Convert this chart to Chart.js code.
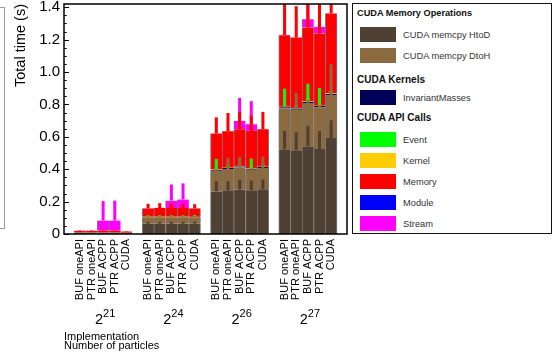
<!DOCTYPE html>
<html>
<head>
<meta charset="utf-8">
<script src="https://cdn.jsdelivr.net/npm/chart.js@4/dist/chart.umd.min.js"></script>
<style>
  body { margin: 0; background: #fff; font-family: "Liberation Sans", Arial, sans-serif; }
  #wrap { position: relative; width: 552px; height: 353px; overflow: hidden; }
  #chart { position: absolute; left: 0; top: 0; }
  #legend { position: absolute; left: 352px; top: 3px; width: 198px; height: 229px; border: 1px solid #111; background: #fff; }
  #legend .hd { position: absolute; left: 4px; font-weight: bold; color: #111; line-height: 12px; white-space: nowrap; }
  #legend .sw { position: absolute; left: 7px; width: 36px; height: 15px; }
  #legend .lb { position: absolute; left: 50px; font-size: 9.3px; line-height: 12px; color: #333; white-space: nowrap; }
  #side { position: absolute; left: -20px; top: 7px; width: 23px; height: 220px; border: 1px solid #999; }
</style>
</head>
<body>
<div id="wrap">
  <div id="side"></div>
  <canvas id="chart" width="552" height="353"></canvas>
  <div id="legend"></div>
</div>
<script>
// number of particles = 2^exp
const groupExps = ['21', '24', '26', '27'];
const implementations = ['BUF oneAPI', 'PTR oneAPI', 'BUF ACPP', 'PTR ACPP', 'CUDA'];
const yTicks = [0, 0.2, 0.4, 0.6, 0.8, 1, 1.2, 1.4];

const seriesNames = ['CUDA memcpy HtoD', 'CUDA memcpy DtoH', 'InvariantMasses', 'Event', 'Kernel', 'Memory', 'Module', 'Stream'];
const seriesColors = ['#4e4033', '#8b6a3f', '#000058', '#00ff00', '#ffcc00', '#ff0000', '#0000ff', '#ff00ff'];

// values per bar: 2^21 x5, 2^24 x5, 2^26 x5, 2^27 x5
const htod = [0.005, 0.005, 0.005, 0.005, 0.004,
              0.063, 0.063, 0.063, 0.063, 0.064,
              0.263, 0.270, 0.274, 0.270, 0.276,
              0.523, 0.517, 0.542, 0.525, 0.592];
const dtoh = [0.003, 0.003, 0.003, 0.003, 0.003,
              0.040, 0.040, 0.040, 0.040, 0.040,
              0.127, 0.131, 0.137, 0.127, 0.131,
              0.252, 0.250, 0.267, 0.257, 0.266];
const invMasses = [0.0005, 0.0005, 0.0005, 0.0005, 0.0005,
                   0.002, 0.002, 0.002, 0.002, 0.002,
                   0.006, 0.006, 0.006, 0.006, 0.006,
                   0.008, 0.008, 0.008, 0.008, 0.008];
const apiEvent = [0.0002, 0.0002, 0.0002, 0.0002, 0.0002,
                  0.0005, 0.0005, 0.0005, 0.0005, 0.0005,
                  0.001, 0.001, 0.001, 0.001, 0.001,
                  0.001, 0.001, 0.001, 0.001, 0.001];
const apiKernel = [0.0002, 0.0002, 0.0002, 0.0002, 0.0002,
                   0.0005, 0.0005, 0.0005, 0.0005, 0.0005,
                   0.001, 0.001, 0.001, 0.001, 0.001,
                   0.0015, 0.0015, 0.0015, 0.0015, 0.0015];
const apiMemory = [0.011, 0.011, 0.012, 0.012, 0.008,
                   0.052, 0.054, 0.054, 0.054, 0.051,
                   0.222, 0.225, 0.227, 0.231, 0.231,
                   0.442, 0.435, 0.455, 0.445, 0.493];
const apiModule = [0.0003, 0.0003, 0.0003, 0.0003, 0.0003,
                   0.0005, 0.0005, 0.0005, 0.0005, 0.0005,
                   0.001, 0.001, 0.001, 0.001, 0.001,
                   0.001, 0.001, 0.001, 0.001, 0.001];
const apiStream = [0.001, 0.001, 0.062, 0.062, 0,
                   0.001, 0.001, 0.045, 0.052, 0,
                   0.001, 0.001, 0.050, 0.041, 0,
                   0.001, 0.001, 0.050, 0.041, 0];

// error spikes (upwards from each segment top)
const htodErr = [0.001, 0.001, 0.001, 0.001, 0.001,
                 0.012, 0.012, 0.012, 0.012, 0.012,
                 0.064, 0.055, 0.060, 0.060, 0.060,
                 0.114, 0.110, 0.126, 0.110, 0.110];
const dtohErr = [0.001, 0.001, 0.001, 0.001, 0.001,
                 0.006, 0.006, 0.006, 0.006, 0.006,
                 0.010, 0.070, 0.066, 0.010, 0.070,
                 0.015, 0.104, 0.015, 0.015, 0.190];
const invMassesErr = [0, 0, 0, 0, 0, 0, 0, 0, 0, 0, 0, 0, 0, 0, 0, 0, 0, 0, 0, 0];
const eventErr = [0.001, 0.001, 0.001, 0.001, 0.001,
                  0.010, 0.010, 0.010, 0.010, 0.010,
                  0.066, 0.020, 0.020, 0.062, 0.020,
                  0.113, 0.020, 0.110, 0.110, 0.020];
const kernelErr = [0, 0, 0, 0, 0,
                   0.005, 0.005, 0.005, 0.005, 0.005,
                   0.010, 0.010, 0.010, 0.010, 0.010,
                   0.020, 0.010, 0.020, 0.020, 0.010];
const memoryErr = [0.003, 0.003, 0.003, 0.003, 0.003,
                   0.028, 0.030, 0.030, 0.030, 0.026,
                   0.100, 0.113, 0.108, 0.095, 0.108,
                   0.250, 0.194, 0.250, 0.250, 0.250];
const moduleErr = [0, 0, 0, 0, 0, 0, 0, 0, 0, 0, 0, 0, 0, 0, 0, 0, 0, 0, 0, 0];
const streamErr = [0, 0, 0.120, 0.123, 0,
                   0, 0, 0.100, 0.100, 0,
                   0, 0, 0.143, 0.142, 0,
                   0, 0, 0.200, 0.200, 0];

const series = [htod, dtoh, invMasses, apiEvent, apiKernel, apiMemory, apiModule, apiStream];
const errors = [htodErr, dtohErr, invMassesErr, eventErr, kernelErr, memoryErr, moduleErr, streamErr];

// bar positions on a linear x scale: one unit per bar, a gap between groups
const GAP = 0.86;
const nImpl = implementations.length;
const xPos = [];
groupExps.forEach((e, g) => implementations.forEach((n, k) => xPos.push(GAP + g * (nImpl + GAP) + k + 0.5)));
const xMax = GAP + groupExps.length * (nImpl + GAP);
const Y_MAX = 1.42;

const FONT = '"Liberation Sans", Arial, sans-serif';

const datasets = [];
// stacked bars
series.forEach((vals, s) => {
  datasets.push({
    label: seriesNames[s],
    data: vals.map((v, i) => ({ x: xPos[i], y: v })),
    backgroundColor: seriesColors[s],
    borderColor: 'rgba(105,105,105,0.9)',
    borderWidth: ctx => ({ left: 1, right: ctx.dataIndex % nImpl === nImpl - 1 ? 1 : 0, top: 0, bottom: 0 }),
    borderSkipped: false,
    grouped: false,
    barPercentage: 1,
    categoryPercentage: 1,
    xAxisID: 'x', yAxisID: 'y',
    order: 2
  });
});
// error spikes, drawn over the bars
const cum = xPos.map(() => 0);
series.forEach((vals, s) => {
  const tops = vals.map((v, i) => (cum[i] += v));
  datasets.push({
    label: seriesNames[s] + ' err',
    data: tops.map((t, i) => ({ x: xPos[i], y: [t, t + errors[s][i]] })),
    backgroundColor: seriesColors[s],
    borderWidth: 0,
    grouped: false,
    barPercentage: 0.26,
    categoryPercentage: 1,
    xAxisID: 'x2', yAxisID: 'y2',
    order: 1
  });
});

const decor = {
  id: 'decor',
  afterDraw(chart) {
    const { ctx, chartArea: a, scales } = chart;
    const y = scales.y, x = scales.x;
    ctx.save();
    // inward ticks on the y axis
    ctx.strokeStyle = '#000';
    ctx.lineWidth = 1;
    for (let v = 0; v <= 1.4001; v += 0.05) {
      const py = Math.round(y.getPixelForValue(v)) + 0.5;
      const major = Math.abs(v / 0.2 - Math.round(v / 0.2)) < 1e-6;
      ctx.beginPath();
      ctx.moveTo(a.left, py);
      ctx.lineTo(a.left + (major ? 5 : 2.7), py);
      ctx.stroke();
    }
    // frame
    ctx.lineWidth = 1.5;
    ctx.strokeRect(a.left, a.top, a.right - a.left, a.bottom - a.top);

    // group labels 2^n
    ctx.fillStyle = '#000';
    ctx.textBaseline = 'alphabetic';
    groupExps.forEach((e, g) => {
      const c = x.getPixelForValue(GAP + g * (nImpl + GAP) + nImpl / 2);
      ctx.font = '14.5px ' + FONT;
      const wb = ctx.measureText('2').width;
      ctx.font = '11px ' + FONT;
      const we = ctx.measureText(e).width;
      const left = c + 2 - (wb + we) / 2;
      ctx.font = '14.5px ' + FONT;
      ctx.textAlign = 'left';
      ctx.fillText('2', left, 324);
      ctx.font = '11px ' + FONT;
      ctx.fillText(e, left + wb, 317);
    });

    // x titles
    ctx.font = '11px ' + FONT;
    ctx.textAlign = 'left';
    ctx.fillText('Implementation', a.left, 340);
    ctx.fillText('Number of particles', a.left, 349);

    // y title
    ctx.translate(21, 4);
    ctx.rotate(-Math.PI / 2);
    ctx.font = '14.5px ' + FONT;
    ctx.textAlign = 'right';
    ctx.textBaseline = 'middle';
    ctx.fillText('Total time (s)', 0, 0);
    ctx.restore();
  }
};

new Chart(document.getElementById('chart'), {
  type: 'bar',
  data: { datasets },
  options: {
    responsive: false,
    animation: false,
    layout: { padding: { top: 4, right: 205, left: 0, bottom: 0 } },
    plugins: { legend: { display: false }, tooltip: { enabled: false } },
    scales: {
      x: {
        type: 'linear', stacked: true, offset: false, min: 0, max: xMax,
        afterBuildTicks: s => { s.ticks = xPos.map(v => ({ value: v })); },
        afterFit: s => { s.height = 119; s.paddingLeft = 0; s.paddingRight = 0; },
        ticks: {
          autoSkip: false, minRotation: 90, maxRotation: 90, padding: 5,
          color: '#000', font: { family: FONT, size: 11 },
          callback: (v, i) => implementations[i % nImpl]
        },
        grid: { display: false, drawTicks: false },
        border: { display: false }
      },
      x2: {
        type: 'linear', stacked: true, offset: false, min: 0, max: xMax, display: false,
        afterBuildTicks: s => { s.ticks = xPos.map(v => ({ value: v })); }
      },
      y: {
        stacked: true, min: 0, max: Y_MAX,
        afterBuildTicks: s => { s.ticks = yTicks.map(v => ({ value: v })); },
        afterFit: s => { s.width = 64; s.paddingTop = 0; s.paddingBottom = 0; },
        ticks: { padding: 4, color: '#000', font: { family: FONT, size: 15 } },
        grid: { display: false, drawTicks: false },
        border: { display: false }
      },
      y2: { stacked: false, min: 0, max: Y_MAX, display: false }
    }
  },
  plugins: [decor]
});

// legend box
const legendGroups = [
  { title: 'CUDA Memory Operations', size: 9.2, top: 3, items: [0, 1] },
  { title: 'CUDA Kernels', size: 10, top: 69.5, items: [2] },
  { title: 'CUDA API Calls', size: 10, top: 107.5, items: [3, 4, 5, 6, 7] }
];
const swatchTops = [23, 44, 86, 128, 149, 170, 191, 212];
const leg = document.getElementById('legend');
legendGroups.forEach(gr => {
  const h = document.createElement('div');
  h.className = 'hd';
  h.style.top = gr.top + 'px';
  h.style.fontSize = gr.size + 'px';
  h.textContent = gr.title;
  leg.appendChild(h);
  gr.items.forEach(s => {
    const sw = document.createElement('div');
    sw.className = 'sw';
    sw.style.top = swatchTops[s] + 'px';
    sw.style.background = seriesColors[s];
    leg.appendChild(sw);
    const lb = document.createElement('div');
    lb.className = 'lb';
    lb.style.top = (swatchTops[s] + 1.5) + 'px';
    lb.textContent = seriesNames[s];
    leg.appendChild(lb);
  });
});
</script>
</body>
</html>
